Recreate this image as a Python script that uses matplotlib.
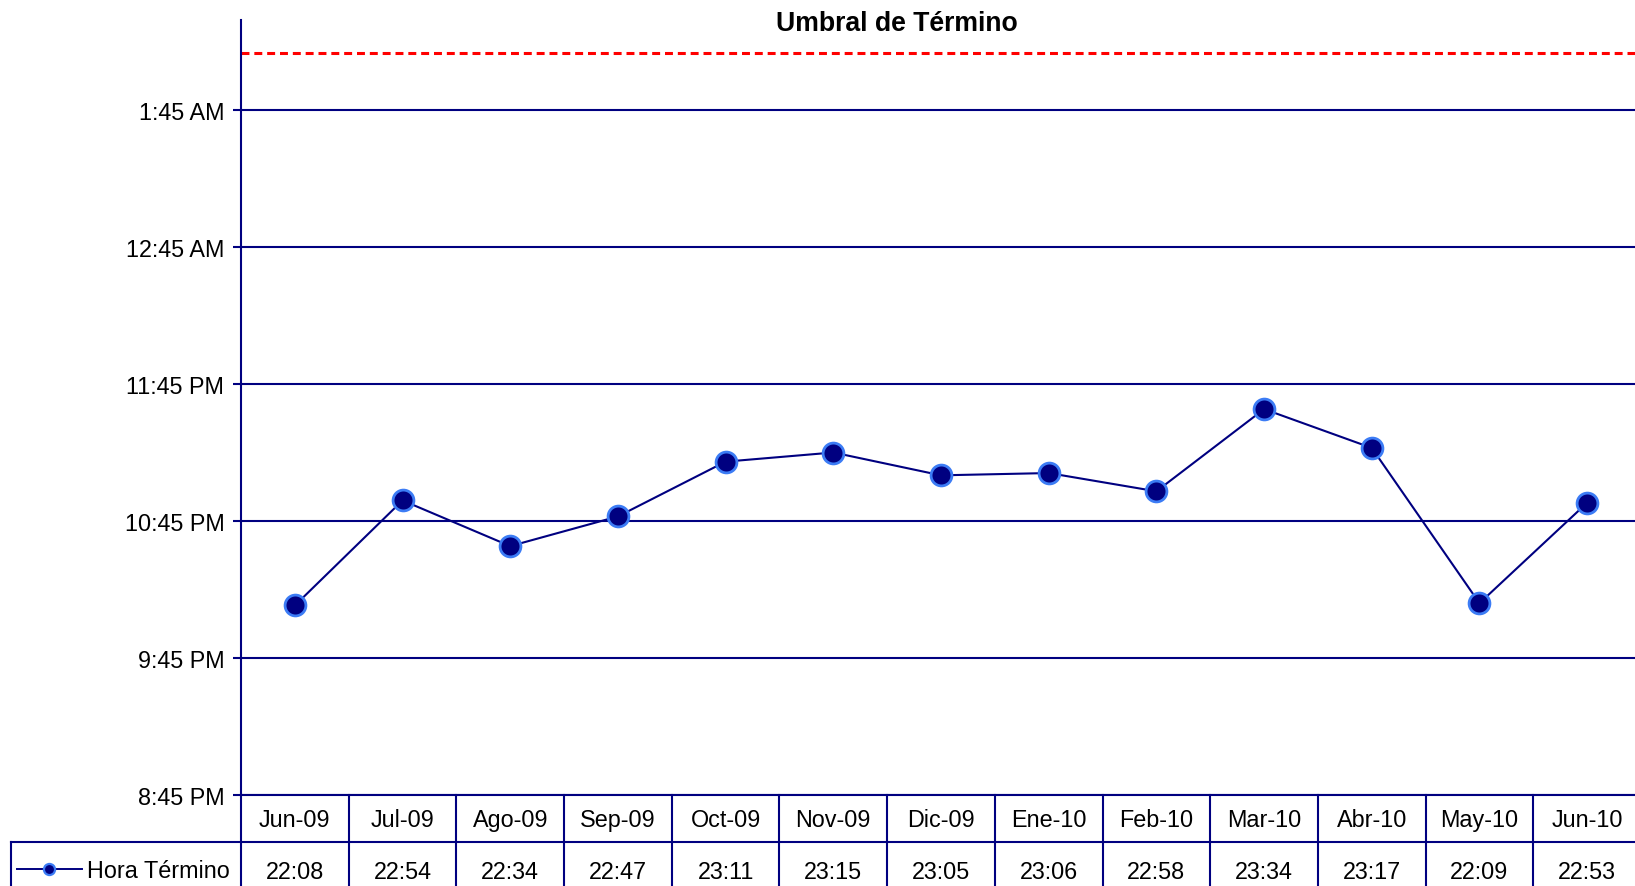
import matplotlib
matplotlib.use('Agg')
import matplotlib.pyplot as plt
import matplotlib.transforms as mtrans
from matplotlib.lines import Line2D

plt.rcParams['font.family'] = ['Liberation Sans', 'DejaVu Sans']

# data ------------------------------------------------
meses = ['Jun-09', 'Jul-09', 'Ago-09', 'Sep-09', 'Oct-09', 'Nov-09', 'Dic-09',
         'Ene-10', 'Feb-10', 'Mar-10', 'Abr-10', 'May-10', 'Jun-10']
horas = ['22:08', '22:54', '22:34', '22:47', '23:11', '23:15', '23:05',
         '23:06', '22:58', '23:34', '23:17', '22:09', '22:53']
umbral = '2:10'
marcas = ['8:45 PM', '9:45 PM', '10:45 PM', '11:45 PM', '12:45 AM', '1:45 AM']
serie = 'Hora Término'
titulo = 'Umbral de Término'


def a_horas(s):
    # hh:mm -> decimal hours, times after midnight pushed past 24
    h, m = s.split(':')
    v = int(h) + int(m) / 60.0
    if v < 12:
        v += 24
    return v


def marca_a_horas(s):
    t, ampm = s.split(' ')
    h, m = t.split(':')
    h = int(h) % 12
    v = h + int(m) / 60.0
    if ampm == 'PM':
        v += 12
    else:
        v += 24
    return v


y = [a_horas(h) for h in horas]
yt = [marca_a_horas(m) for m in marcas]
x = list(range(len(meses)))

navy = '#000080'
borde = '#3C7CF5'
fs = 16.8

W, H = 1635, 887
fig = plt.figure(figsize=(W / 100, H / 100), dpi=100)
ax = fig.add_axes([241 / W, 91 / H, 1400 / W, 775 / H])

ax.plot(x, y, color=navy, lw=1.5, marker='o', ms=15, mfc=navy, mec=borde, mew=2, zorder=3)
ax.axhline(a_horas(umbral), color='red', ls=(0, (2.6, 1.6)), lw=2.2, zorder=2)

ax.set_xlim(-0.5, len(meses) - 0.5)
ax.set_ylim(yt[0], yt[0] + 775 / 137.0)
ax.set_yticks(yt)
ax.set_yticklabels(marcas, fontsize=fs)
ax.set_xticks([])
ax.yaxis.grid(True, color=navy, lw=1.5)
ax.set_axisbelow(True)
ax.tick_params(axis='y', length=6, width=1.5, color=navy, pad=6)
for s in ['top', 'right']:
    ax.spines[s].set_visible(False)
for s in ['left', 'bottom']:
    ax.spines[s].set_color(navy)
    ax.spines[s].set_linewidth(1.5)

# data table under the axis ----------------------------
rh = 47 / 775.0
trans = mtrans.blended_transform_factory(ax.transData, ax.transAxes)
for i in range(len(meses) + 1):
    ax.plot([i - 0.5, i - 0.5], [0, -2 * rh], transform=trans, color=navy,
            lw=1.5, clip_on=False)
leg_left = (11 - 241) / 1400.0
ax.plot([leg_left, 1.0], [-rh, -rh], transform=ax.transAxes, color=navy, lw=1.5, clip_on=False)
ax.plot([leg_left, leg_left], [-rh, -2 * rh], transform=ax.transAxes, color=navy, lw=1.5, clip_on=False)
for i, (m, h) in enumerate(zip(meses, horas)):
    ax.text(i, -0.0312, m, transform=trans, ha='center', va='center', fontsize=fs)
    ax.text(i, -0.0983, h, transform=trans, ha='center', va='center', fontsize=fs)

handle = Line2D([], [], color=navy, lw=1.4, marker='o', ms=8, mfc=navy, mec=borde, mew=1.6)
ax.legend([handle], [serie], loc='center left', bbox_to_anchor=(16.5 / W, (H - 872) / H),
          bbox_transform=fig.transFigure, frameon=False, fontsize=fs,
          handlelength=2.8, handletextpad=0.22, borderpad=0, borderaxespad=0)

fig.text(897 / W, 1 - 24 / H, titulo, ha='center', va='center', fontsize=19.2, fontweight='bold')

fig.savefig('out.png', dpi=100)
